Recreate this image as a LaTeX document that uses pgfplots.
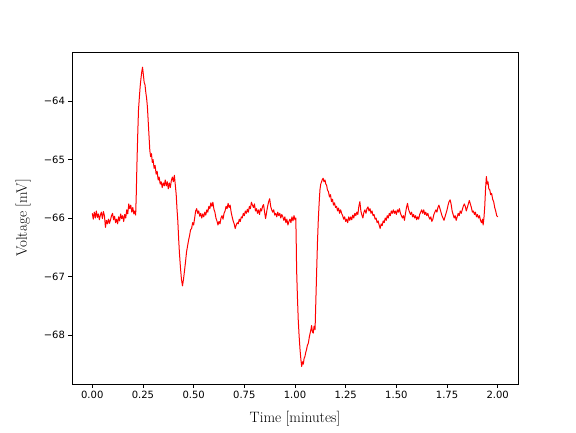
\documentclass[border=0pt]{standalone}
\usepackage{fontspec}
\usepackage{pgfplots}
\pgfplotsset{compat=1.18}
\newfontfamily\dejavu{DejaVu Sans}
\begin{document}
\begin{tikzpicture}[x=1pt,y=1pt]
\path[use as bounding box] (-72,-48) rectangle (504,384);
\begin{axis}[
  at={(0,0)}, anchor=south west,
  scale only axis, width=446pt, height=332pt,
  xmin=-0.1, xmax=2.1, ymin=-68.84, ymax=-63.16,
  xtick={0,0.25,0.5,0.75,1,1.25,1.5,1.75,2},
  xticklabels={0.00,0.25,0.50,0.75,1.00,1.25,1.50,1.75,2.00},
  ytick={-68,-67,-66,-65,-64},
  yticklabels={−68,−67,−66,−65,−64},
  tick label style={font=\dejavu\fontsize{10}{12}\selectfont},
  xtick pos=left, ytick pos=left,
  tick align=outside, major tick length=3.5pt,
  tick style={black, line width=0.8pt},
  axis line style={line width=0.8pt},
  xlabel={Time [minutes]}, ylabel={Voltage [mV]},
  xlabel style={font=\fontsize{15}{18}\selectfont, at={(axis description cs:0.5,0)}, anchor=base, yshift=-38pt},
  ylabel style={font=\fontsize{15}{18}\selectfont, at={(axis description cs:0,0.5)}, anchor=base, yshift=45pt},
]
\addplot[red, line width=1pt, line join=round] table {
0.000 -65.92
0.005 -66.02
0.010 -65.90
0.015 -66.00
0.020 -65.88
0.025 -65.99
0.030 -65.93
0.035 -66.03
0.040 -65.95
0.045 -65.90
0.050 -66.01
0.055 -65.89
0.060 -65.96
0.065 -66.16
0.070 -66.04
0.075 -66.10
0.080 -66.02
0.085 -66.09
0.090 -66.03
0.095 -65.96
0.100 -65.92
0.105 -66.03
0.110 -65.97
0.115 -66.08
0.120 -66.02
0.125 -66.10
0.130 -65.98
0.135 -66.05
0.140 -65.93
0.145 -66.01
0.150 -65.96
0.155 -66.06
0.160 -65.94
0.165 -66.00
0.170 -65.86
0.175 -65.93
0.180 -65.76
0.185 -65.84
0.190 -65.78
0.195 -65.90
0.200 -65.82
0.205 -65.93
0.210 -65.88
0.214 -65.95
0.217 -65.60
0.220 -65.12
0.224 -64.60
0.228 -64.15
0.232 -63.95
0.236 -63.76
0.240 -63.62
0.244 -63.50
0.248 -63.42
0.252 -63.55
0.256 -63.68
0.260 -63.72
0.264 -63.85
0.268 -63.95
0.272 -64.10
0.276 -64.35
0.280 -64.60
0.284 -64.85
0.288 -64.95
0.292 -64.90
0.296 -65.05
0.300 -65.00
0.305 -65.15
0.310 -65.10
0.315 -65.25
0.320 -65.20
0.325 -65.35
0.330 -65.30
0.335 -65.42
0.340 -65.38
0.345 -65.48
0.350 -65.40
0.355 -65.45
0.360 -65.35
0.365 -65.45
0.370 -65.38
0.375 -65.50
0.380 -65.40
0.385 -65.48
0.390 -65.36
0.395 -65.30
0.400 -65.38
0.405 -65.27
0.410 -65.45
0.414 -65.60
0.418 -65.85
0.422 -66.05
0.426 -66.35
0.430 -66.60
0.435 -66.85
0.440 -67.05
0.445 -67.16
0.450 -67.05
0.455 -66.90
0.460 -66.75
0.465 -66.58
0.470 -66.48
0.475 -66.38
0.480 -66.30
0.485 -66.20
0.490 -66.18
0.495 -66.08
0.500 -66.12
0.505 -66.00
0.510 -65.88
0.515 -65.84
0.520 -65.92
0.525 -65.88
0.530 -65.97
0.535 -65.92
0.540 -66.00
0.545 -65.93
0.550 -65.98
0.555 -65.90
0.560 -65.95
0.565 -65.86
0.570 -65.90
0.575 -65.80
0.580 -65.84
0.585 -65.74
0.590 -65.80
0.595 -65.73
0.600 -65.85
0.605 -65.90
0.610 -66.00
0.615 -66.05
0.620 -66.12
0.625 -66.06
0.630 -66.10
0.635 -66.00
0.640 -65.96
0.645 -66.02
0.650 -65.92
0.655 -65.88
0.660 -65.80
0.665 -65.84
0.670 -65.75
0.675 -65.82
0.680 -65.78
0.685 -65.90
0.690 -65.98
0.695 -66.05
0.700 -66.10
0.705 -66.18
0.710 -66.12
0.715 -66.08
0.720 -66.10
0.725 -66.02
0.730 -66.06
0.735 -65.98
0.740 -66.00
0.745 -65.92
0.750 -65.96
0.755 -65.88
0.760 -65.92
0.765 -65.85
0.770 -65.90
0.775 -65.80
0.780 -65.84
0.785 -65.73
0.790 -65.78
0.795 -65.82
0.800 -65.76
0.805 -65.88
0.810 -65.84
0.815 -65.92
0.820 -65.86
0.825 -65.94
0.830 -65.84
0.835 -65.88
0.840 -65.80
0.845 -65.77
0.850 -65.90
0.855 -66.01
0.860 -65.90
0.865 -65.80
0.870 -65.72
0.875 -65.67
0.880 -65.80
0.885 -65.86
0.890 -65.90
0.895 -65.86
0.900 -65.95
0.905 -65.92
0.910 -65.98
0.915 -65.90
0.920 -65.96
0.925 -65.92
0.930 -66.00
0.935 -65.94
0.940 -65.98
0.945 -66.04
0.950 -65.98
0.955 -66.08
0.960 -66.02
0.965 -66.12
0.970 -66.06
0.975 -66.02
0.980 -66.08
0.985 -65.98
0.990 -66.05
0.995 -65.96
1.000 -66.03
1.004 -66.00
1.006 -66.40
1.008 -66.89
1.012 -67.35
1.016 -67.74
1.020 -68.00
1.025 -68.26
1.029 -68.42
1.033 -68.54
1.037 -68.46
1.041 -68.50
1.045 -68.40
1.049 -68.37
1.053 -68.30
1.057 -68.25
1.061 -68.18
1.066 -68.14
1.070 -68.05
1.074 -67.98
1.078 -67.92
1.082 -67.84
1.086 -67.95
1.090 -67.97
1.094 -67.85
1.099 -67.91
1.103 -67.40
1.107 -66.89
1.111 -66.40
1.115 -66.03
1.119 -65.75
1.123 -65.52
1.127 -65.42
1.131 -65.38
1.135 -65.34
1.139 -65.32
1.143 -65.38
1.148 -65.35
1.152 -65.42
1.156 -65.44
1.160 -65.52
1.165 -65.55
1.170 -65.64
1.175 -65.60
1.180 -65.72
1.185 -65.68
1.190 -65.78
1.195 -65.74
1.200 -65.82
1.205 -65.80
1.210 -65.88
1.215 -65.83
1.220 -65.92
1.225 -65.86
1.230 -65.92
1.235 -65.96
1.240 -66.02
1.245 -65.98
1.250 -66.06
1.255 -66.02
1.260 -66.08
1.265 -65.98
1.270 -66.04
1.275 -65.98
1.280 -66.03
1.285 -65.95
1.290 -66.00
1.295 -65.92
1.300 -65.96
1.305 -65.90
1.310 -65.94
1.315 -65.80
1.320 -65.72
1.325 -65.88
1.330 -65.95
1.335 -66.00
1.340 -65.90
1.345 -65.86
1.350 -65.92
1.355 -65.84
1.360 -65.81
1.365 -65.88
1.370 -65.84
1.375 -65.92
1.380 -65.88
1.385 -65.96
1.390 -65.94
1.395 -66.02
1.400 -66.00
1.405 -66.08
1.410 -66.05
1.415 -66.12
1.420 -66.18
1.425 -66.10
1.430 -66.13
1.435 -66.05
1.440 -66.08
1.445 -66.00
1.450 -66.04
1.455 -65.96
1.460 -66.00
1.465 -65.92
1.470 -65.96
1.475 -65.88
1.480 -65.92
1.485 -65.86
1.490 -65.92
1.495 -65.88
1.500 -65.94
1.505 -65.86
1.510 -65.90
1.515 -65.84
1.520 -65.92
1.525 -65.96
1.530 -66.00
1.535 -65.96
1.540 -66.04
1.545 -65.92
1.550 -65.82
1.555 -65.75
1.560 -65.85
1.565 -65.90
1.570 -65.94
1.575 -65.90
1.580 -65.98
1.585 -65.94
1.590 -66.00
1.595 -65.96
1.600 -66.03
1.605 -65.98
1.610 -66.02
1.615 -65.94
1.620 -65.90
1.625 -65.86
1.630 -65.92
1.635 -65.86
1.640 -65.94
1.645 -65.90
1.650 -65.96
1.655 -65.92
1.660 -65.98
1.665 -66.02
1.670 -65.98
1.675 -66.06
1.680 -66.02
1.685 -65.94
1.690 -65.90
1.695 -65.86
1.700 -65.90
1.705 -65.82
1.710 -65.78
1.715 -65.84
1.720 -65.90
1.725 -65.96
1.730 -66.00
1.735 -66.04
1.740 -65.98
1.745 -65.92
1.750 -65.86
1.755 -65.78
1.760 -65.72
1.765 -65.69
1.770 -65.76
1.775 -65.88
1.780 -65.94
1.785 -66.00
1.790 -65.96
1.795 -66.04
1.800 -65.98
1.805 -65.92
1.810 -65.96
1.815 -65.88
1.820 -65.92
1.825 -65.86
1.830 -65.80
1.835 -65.76
1.840 -65.80
1.845 -65.88
1.850 -65.82
1.855 -65.76
1.860 -65.70
1.865 -65.76
1.870 -65.82
1.875 -65.90
1.880 -65.88
1.885 -65.94
1.890 -65.90
1.895 -65.98
1.900 -65.94
1.905 -66.00
1.910 -65.96
1.915 -66.04
1.920 -66.08
1.925 -66.02
1.928 -66.12
1.932 -66.00
1.936 -65.80
1.940 -65.50
1.944 -65.29
1.948 -65.42
1.952 -65.38
1.956 -65.50
1.961 -65.52
1.965 -65.60
1.970 -65.58
1.975 -65.68
1.980 -65.72
1.985 -65.82
1.990 -65.88
1.995 -65.96
2.000 -65.98
};
\end{axis}
\end{tikzpicture}
\end{document}
